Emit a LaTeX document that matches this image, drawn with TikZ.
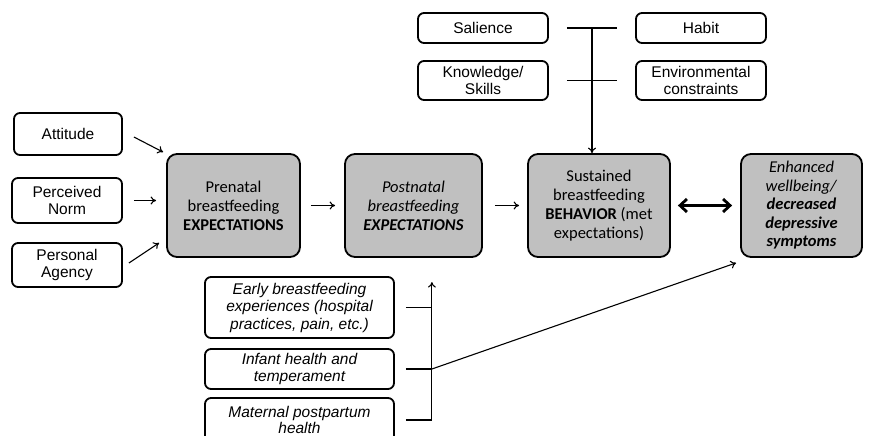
\documentclass[tikz,border=0pt]{standalone}
\usepackage{fontspec}
\setmainfont{Liberation Sans}
\newfontfamily\calib{Carlito}
\usetikzlibrary{arrows.meta,calc}
\definecolor{boxgray}{RGB}{192,192,192}
\begin{document}
\begin{tikzpicture}[x=1pt,y=-1pt,
 smallbox/.style={draw, line width=1.8pt, rounded corners=6pt, align=center, inner sep=0pt, font=\fontsize{15.5}{17.5}\selectfont},
 bigbox/.style={draw, line width=1.8pt, rounded corners=10pt, fill=boxgray, align=center, inner sep=0pt, font=\calib\fontsize{16.5}{19}\selectfont},
 itbox/.style={smallbox, font=\itshape\fontsize{15.5}{17.5}\selectfont},
 arr/.style={-{To[length=5.5pt,width=8pt]}, line width=1.1pt},
 dbl/.style={{Straight Barb[length=7pt,width=13pt]}-{Straight Barb[length=7pt,width=13pt]}, line width=2.8pt},
 ln/.style={line width=1.3pt}]
\useasboundingbox (0,0) rectangle (871,436);

% left inputs
\node[smallbox, minimum width=108pt, minimum height=42pt] (att) at (68,134) {Attitude};
\node[smallbox, minimum width=110pt, minimum height=45pt] (pn) at (67,200.5) {Perceived\\Norm};
\node[smallbox, minimum width=110pt, minimum height=44pt] (pa) at (67,265) {Personal\\Agency};

% main chain
\node[bigbox, minimum width=133pt, minimum height=103pt] (pre) at (233.5,205.5) {Prenatal\\breastfeeding\\\textbf{EXPECTATIONS}};
\node[bigbox, minimum width=137pt, minimum height=103pt] (post) at (413.5,205.5) {\textit{Postnatal}\\\textit{breastfeeding}\\\textbf{\textit{EXPECTATIONS}}};
\node[bigbox, minimum width=142pt, minimum height=103pt] (sust) at (599,205.5) {Sustained\\breastfeeding\\\textbf{BEHAVIOR} (met\\expectations)};
\node[bigbox, minimum width=121pt, minimum height=103pt, font=\calib\fontsize{16.5}{18.5}\selectfont] (enh) at (801.5,205.5) {\textit{Enhanced}\\\textit{wellbeing/}\\\textbf{\textit{decreased}}\\\textbf{\textit{depressive}}\\\textbf{\textit{symptoms}}};

% top moderators
\node[smallbox, minimum width=130pt, minimum height=30pt] (sal) at (483,28) {Salience};
\node[smallbox, minimum width=130pt, minimum height=30pt] (hab) at (701,28) {Habit};
\node[smallbox, minimum width=130pt, minimum height=39pt] (kno) at (483,80.5) {Knowledge/\\Skills};
\node[smallbox, minimum width=130pt, minimum height=39pt] (env) at (701,80.5) {Environmental\\constraints};

% bottom moderators
\node[itbox, minimum width=189pt, minimum height=61pt] (early) at (299.5,307.5) {Early breastfeeding\\experiences (hospital\\practices, pain, etc.)};
\node[itbox, minimum width=189pt, minimum height=40pt] (inf) at (299.5,369) {Infant health and\\temperament};
\node[itbox, minimum width=189pt, minimum height=44pt, font=\itshape\fontsize{15.5}{16}\selectfont] (mat) at (299.5,420) {Maternal postpartum\\health};

% left arrows
\draw[arr] ($(att.east)+(11,3)$) -- ($(pre.north west)+(-3,-1)$);
\draw[arr, shorten <=11pt, shorten >=10pt] (pn.east) -- (pn.east -| pre.west);
\draw[arr] ($(pa.east)+(6,-2)$) -- ($(pre.south west)+(-7,-15)$);

% chain arrows
\draw[arr, shorten <=10pt, shorten >=9pt] (pre) -- (post);
\draw[arr, shorten <=12pt, shorten >=8pt] (post) -- (sust);
\draw[dbl, shorten <=7pt, shorten >=8pt] (sust) -- (enh);

% top bracket
\coordinate (top) at ($(sal.east)!0.5!(hab.west)$);
\draw[ln, shorten <=18pt, shorten >=18pt] (sal.east) -- (hab.west);
\draw[ln, shorten <=18pt, shorten >=18pt] (kno.east) -- (env.west);
\draw[arr] (top) -- (top |- sust.north);

% bottom bracket
\coordinate (bx) at ($(early.east)+(37,0)$);
\draw[ln, shorten <=11pt] (early.east) -- (early.east -| bx);
\draw[ln, shorten <=11pt] (inf.east) -- (inf.east -| bx);
\draw[ln, shorten <=11pt] (mat.east) -- (mat.east -| bx);
\coordinate (btop) at ($(early.north -| bx)+(0,6)$);
\draw[arr] (mat.east -| bx) -- (btop);
\draw[arr] (inf.east -| bx) -- ($(enh.south west)+(-4,5)$);
\end{tikzpicture}
\end{document}
